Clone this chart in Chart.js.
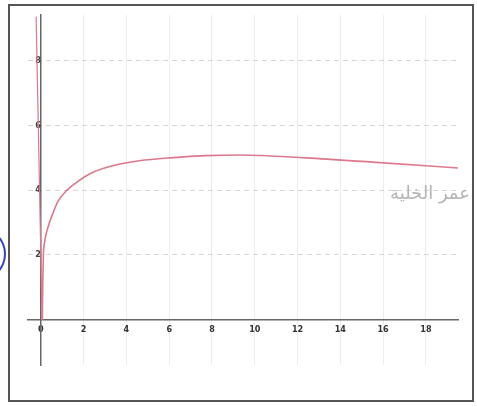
<!DOCTYPE html>
<html>
<head>
<meta charset="utf-8">
<script src="https://cdn.jsdelivr.net/npm/chart.js@4"></script>
<style>
  body { margin: 0; background: #fff; }
  #wrap { position: relative; width: 477px; height: 407px; overflow: hidden; }
  #frame { position: absolute; left: 8px; top: 4px; width: 462px; height: 394px; border: 2px solid #555; }
  #mark { position: absolute; left: -44px; top: 228px; width: 46px; height: 48px; border: 2px solid #3344cc; border-radius: 50%; }
  #note { position: absolute; left: 300px; top: 182px; width: 170px; text-align: right; direction: rtl;
          font-family: "DejaVu Sans", sans-serif; font-size: 18px; color: #b4b4b4; }
</style>
</head>
<body>
<div id="wrap">
  <div id="frame"></div>
  <div id="mark"></div>
  <canvas id="c" width="477" height="407"></canvas>
  <div id="note">عمر الخلية</div>
</div>
<script>
// curve
var curveX = [0.07, 0.09, 0.12, 0.18, 0.27, 0.38, 0.5, 0.8, 1.2, 1.6, 2.3, 3.1, 4.6, 6.2, 7.7, 9.3, 12.4, 15.5, 19.5];
var curveY = [0, 1.1, 2, 2.4, 2.7, 2.95, 3.17, 3.65, 3.98, 4.2, 4.5, 4.7, 4.9, 5.0, 5.06, 5.08, 4.99, 4.86, 4.68];

// the steep pink stroke on the left of the y axis
var leftX = [-0.22, 0.06];
var leftY = [9.35, 0];

var xTicks = [0, 2, 4, 6, 8, 10, 12, 14, 16, 18];
var yTicks = [2, 4, 6, 8];

function pts(xs, ys) {
    return xs.map(function(x, i) { return {x: x, y: ys[i]}; });
}

var pink = 'rgb(222, 120, 140)';

var chart = new Chart(document.getElementById('c'), {
    type: 'line',
    data: {
        datasets: [{
            data: pts(curveX, curveY),
            borderColor: pink,
            borderWidth: 1.6,
            pointRadius: 0,
            cubicInterpolationMode: 'monotone'
        }, {
            data: pts(leftX, leftY),
            borderColor: pink,
            borderWidth: 1.2,
            pointRadius: 0
        }]
    },
    options: {
        responsive: false,
        animation: false,
        layout: { padding: { left: 28, top: 15, right: 19, bottom: 42 } },
        plugins: { legend: { display: false }, tooltip: { enabled: false } },
        scales: {
            x: {
                type: 'linear',
                min: -0.6,
                max: 19.5,
                position: { y: 0 },
                afterBuildTicks: function(scale) {
                    scale.ticks = xTicks.map(function(v) { return {value: v}; });
                },
                grid: { color: '#ededed', lineWidth: 1, drawTicks: false },
                border: { color: '#666', width: 1.5 },
                ticks: {
                    padding: 5,
                    color: '#333',
                    maxRotation: 0,
                    font: { family: 'DejaVu Sans Condensed, DejaVu Sans', size: 9, weight: 'bold' }
                }
            },
            y: {
                type: 'linear',
                min: -1.4,
                max: 9.4,
                position: { x: 0 },
                afterBuildTicks: function(scale) {
                    scale.ticks = yTicks.map(function(v) { return {value: v}; });
                },
                grid: { color: '#d6d6d6', lineWidth: 1, drawTicks: false },
                border: { color: '#666', width: 1.5, dash: [5, 4] },
                ticks: {
                    padding: 4,
                    color: '#444',
                    font: { family: 'DejaVu Sans Condensed, DejaVu Sans', size: 9, weight: 'bold' }
                }
            }
        }
    }
});
</script>
</body>
</html>
